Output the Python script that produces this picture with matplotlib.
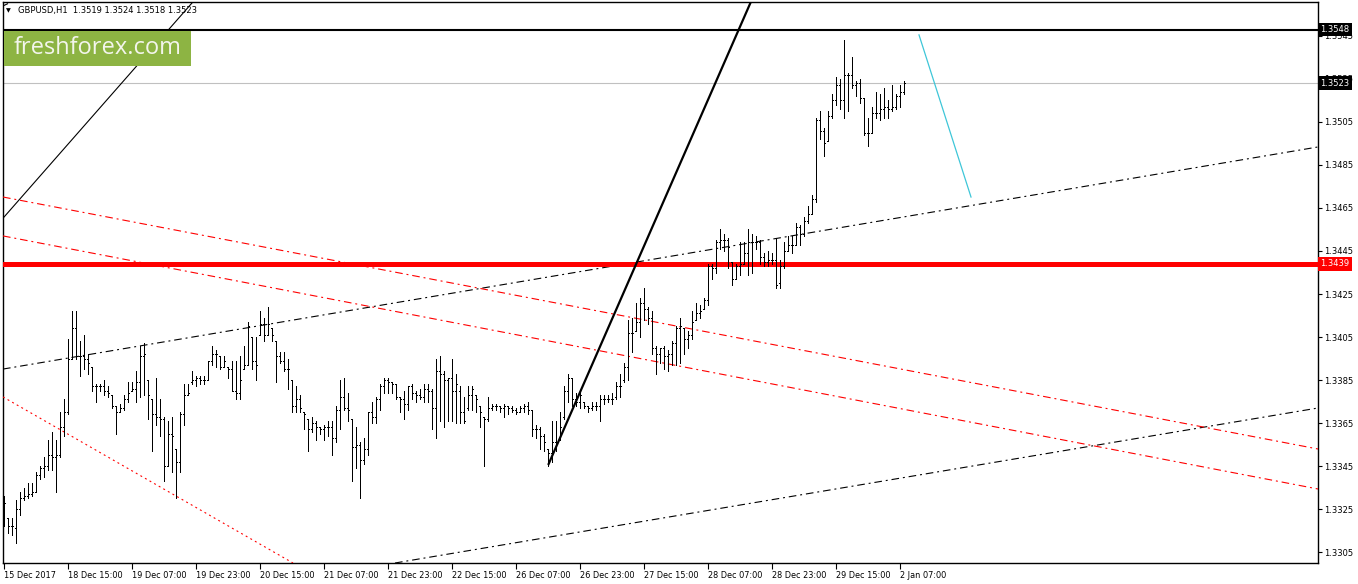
import numpy as np
import matplotlib
matplotlib.use('Agg')
import matplotlib.pyplot as plt
from matplotlib.collections import LineCollection
from matplotlib.patches import Rectangle
import matplotlib.transforms as mtransforms

plt.rcParams['font.family'] = ['DejaVu Sans']
plt.rcParams['lines.scale_dashes'] = False

# ---------------- data (GBPUSD H1 bars) ----------------
opens = [1.3322, 1.3321, 1.3317, 1.3316, 1.3325, 1.3330, 1.3331, 1.3332, 1.3333, 1.3341,
         1.3344, 1.3345, 1.3350, 1.3349, 1.3350, 1.3363, 1.3370, 1.3395, 1.3409, 1.3396,
         1.3396, 1.3395, 1.3391, 1.3382, 1.3382, 1.3382, 1.3380, 1.3378, 1.3373, 1.3370,
         1.3372, 1.3376, 1.3380, 1.3381, 1.3384, 1.3396, 1.3385, 1.3376, 1.3369, 1.3368,
         1.3367, 1.3345, 1.3360, 1.3353, 1.3347, 1.3369, 1.3378, 1.3384, 1.3385, 1.3386,
         1.3385, 1.3385, 1.3394, 1.3397, 1.3396, 1.3391, 1.3391, 1.3390, 1.3380, 1.3379,
         1.3390, 1.3392, 1.3405, 1.3394, 1.3406, 1.3411, 1.3406, 1.3409, 1.3403, 1.3396,
         1.3394, 1.3390, 1.3385, 1.3373, 1.3376, 1.3370, 1.3367, 1.3362, 1.3365, 1.3363,
         1.3362, 1.3363, 1.3363, 1.3358, 1.3371, 1.3377, 1.3372, 1.3367, 1.3354, 1.3355,
         1.3348, 1.3353, 1.3370, 1.3368, 1.3376, 1.3382, 1.3385, 1.3384, 1.3383, 1.3377,
         1.3376, 1.3374, 1.3382, 1.3379, 1.3378, 1.3377, 1.3381, 1.3380, 1.3372, 1.3389,
         1.3388, 1.3385, 1.3386, 1.3380, 1.3380, 1.3370, 1.3372, 1.3378, 1.3378, 1.3373,
         1.3368, 1.3367, 1.3372, 1.3373, 1.3373, 1.3372, 1.3373, 1.3372, 1.3371, 1.3370,
         1.3372, 1.3373, 1.3371, 1.3362, 1.3362, 1.3359, 1.3353, 1.3351, 1.3356, 1.3358,
         1.3368, 1.3380, 1.3386, 1.3376, 1.3375, 1.3375, 1.3373, 1.3372, 1.3373, 1.3373,
         1.3376, 1.3376, 1.3376, 1.3377, 1.3382, 1.3385, 1.3391, 1.3407, 1.3408, 1.3412,
         1.3421, 1.3418, 1.3414, 1.3400, 1.3397, 1.3400, 1.3396, 1.3397, 1.3402, 1.3409,
         1.3409, 1.3404, 1.3406, 1.3413, 1.3416, 1.3418, 1.3422, 1.3438, 1.3437, 1.3449,
         1.3450, 1.3450, 1.3440, 1.3432, 1.3438, 1.3439, 1.3444, 1.3449, 1.3449, 1.3449,
         1.3442, 1.3440, 1.3441, 1.3441, 1.3430, 1.3438, 1.3445, 1.3448, 1.3448, 1.3456,
         1.3453, 1.3459, 1.3462, 1.3469, 1.3506, 1.3501, 1.3496, 1.3508, 1.3515, 1.3522,
         1.3515, 1.3527, 1.3527, 1.3522, 1.3523, 1.3516, 1.3500, 1.3500, 1.3509, 1.3509,
         1.3511, 1.3512, 1.3511, 1.3512, 1.3517, 1.3519]
highs = [1.3331, 1.3321, 1.3321, 1.3329, 1.3333, 1.3335, 1.3337, 1.3337, 1.3342, 1.3345,
         1.3349, 1.3357, 1.3361, 1.3357, 1.3370, 1.3376, 1.3404, 1.3417, 1.3417, 1.3403,
         1.3406, 1.3397, 1.3391, 1.3383, 1.3383, 1.3385, 1.3382, 1.3378, 1.3373, 1.3374,
         1.3378, 1.3384, 1.3384, 1.3389, 1.3401, 1.3402, 1.3385, 1.3376, 1.3386, 1.3376,
         1.3368, 1.3366, 1.3368, 1.3353, 1.3370, 1.3383, 1.3383, 1.3389, 1.3387, 1.3387,
         1.3387, 1.3394, 1.3401, 1.3399, 1.3396, 1.3396, 1.3391, 1.3394, 1.3394, 1.3396,
         1.3401, 1.3412, 1.3405, 1.3405, 1.3417, 1.3414, 1.3419, 1.3409, 1.3403, 1.3398,
         1.3398, 1.3395, 1.3385, 1.3382, 1.3378, 1.3370, 1.3367, 1.3368, 1.3366, 1.3363,
         1.3364, 1.3366, 1.3366, 1.3373, 1.3385, 1.3386, 1.3379, 1.3367, 1.3363, 1.3356,
         1.3358, 1.3370, 1.3375, 1.3377, 1.3383, 1.3386, 1.3386, 1.3384, 1.3383, 1.3377,
         1.3380, 1.3382, 1.3383, 1.3380, 1.3381, 1.3383, 1.3383, 1.3381, 1.3395, 1.3396,
         1.3389, 1.3386, 1.3395, 1.3388, 1.3382, 1.3377, 1.3382, 1.3382, 1.3378, 1.3373,
         1.3368, 1.3377, 1.3374, 1.3374, 1.3373, 1.3374, 1.3373, 1.3373, 1.3372, 1.3373,
         1.3374, 1.3375, 1.3371, 1.3364, 1.3363, 1.3360, 1.3353, 1.3366, 1.3366, 1.3370,
         1.3382, 1.3388, 1.3386, 1.3379, 1.3380, 1.3375, 1.3373, 1.3375, 1.3375, 1.3378,
         1.3378, 1.3378, 1.3379, 1.3384, 1.3388, 1.3393, 1.3413, 1.3414, 1.3421, 1.3423,
         1.3428, 1.3419, 1.3417, 1.3401, 1.3400, 1.3401, 1.3399, 1.3403, 1.3410, 1.3414,
         1.3409, 1.3408, 1.3417, 1.3421, 1.3420, 1.3423, 1.3439, 1.3439, 1.3450, 1.3455,
         1.3453, 1.3451, 1.3440, 1.3439, 1.3449, 1.3449, 1.3455, 1.3453, 1.3452, 1.3450,
         1.3444, 1.3445, 1.3444, 1.3451, 1.3441, 1.3449, 1.3452, 1.3452, 1.3458, 1.3457,
         1.3461, 1.3466, 1.3471, 1.3507, 1.3510, 1.3502, 1.3510, 1.3518, 1.3526, 1.3525,
         1.3543, 1.3528, 1.3535, 1.3524, 1.3525, 1.3516, 1.3507, 1.3512, 1.3519, 1.3518,
         1.3521, 1.3515, 1.3522, 1.3518, 1.3522, 1.3524]
lows = [1.3317, 1.3314, 1.3313, 1.3309, 1.3322, 1.3329, 1.3330, 1.3331, 1.3333, 1.3339,
        1.3340, 1.3343, 1.3343, 1.3333, 1.3349, 1.3359, 1.3369, 1.3395, 1.3395, 1.3387,
        1.3390, 1.3388, 1.3380, 1.3375, 1.3380, 1.3378, 1.3377, 1.3372, 1.3360, 1.3370,
        1.3371, 1.3375, 1.3380, 1.3375, 1.3377, 1.3378, 1.3367, 1.3352, 1.3364, 1.3359,
        1.3338, 1.3345, 1.3342, 1.3330, 1.3342, 1.3364, 1.3378, 1.3383, 1.3382, 1.3383,
        1.3383, 1.3385, 1.3392, 1.3391, 1.3390, 1.3391, 1.3386, 1.3380, 1.3376, 1.3376,
        1.3390, 1.3392, 1.3390, 1.3385, 1.3406, 1.3403, 1.3406, 1.3403, 1.3384, 1.3393,
        1.3389, 1.3381, 1.3370, 1.3370, 1.3370, 1.3362, 1.3352, 1.3361, 1.3357, 1.3360,
        1.3357, 1.3359, 1.3350, 1.3356, 1.3362, 1.3371, 1.3366, 1.3338, 1.3344, 1.3330,
        1.3346, 1.3350, 1.3365, 1.3365, 1.3371, 1.3379, 1.3379, 1.3379, 1.3376, 1.3370,
        1.3367, 1.3371, 1.3376, 1.3375, 1.3376, 1.3375, 1.3375, 1.3362, 1.3358, 1.3366,
        1.3363, 1.3366, 1.3366, 1.3365, 1.3365, 1.3365, 1.3371, 1.3371, 1.3370, 1.3363,
        1.3345, 1.3366, 1.3371, 1.3371, 1.3370, 1.3368, 1.3369, 1.3370, 1.3369, 1.3370,
        1.3370, 1.3369, 1.3359, 1.3358, 1.3353, 1.3352, 1.3345, 1.3347, 1.3352, 1.3357,
        1.3367, 1.3375, 1.3373, 1.3373, 1.3372, 1.3372, 1.3370, 1.3371, 1.3371, 1.3366,
        1.3374, 1.3375, 1.3374, 1.3376, 1.3377, 1.3384, 1.3385, 1.3398, 1.3408, 1.3405,
        1.3413, 1.3411, 1.3397, 1.3388, 1.3393, 1.3390, 1.3389, 1.3392, 1.3392, 1.3393,
        1.3397, 1.3400, 1.3404, 1.3413, 1.3414, 1.3418, 1.3420, 1.3432, 1.3435, 1.3446,
        1.3445, 1.3437, 1.3429, 1.3432, 1.3434, 1.3439, 1.3434, 1.3435, 1.3446, 1.3439,
        1.3438, 1.3438, 1.3439, 1.3428, 1.3428, 1.3437, 1.3445, 1.3444, 1.3448, 1.3448,
        1.3452, 1.3458, 1.3462, 1.3468, 1.3497, 1.3489, 1.3496, 1.3507, 1.3513, 1.3511,
        1.3507, 1.3510, 1.3521, 1.3517, 1.3514, 1.3499, 1.3494, 1.3500, 1.3507, 1.3506,
        1.3507, 1.3507, 1.3510, 1.3511, 1.3512, 1.3518]
closes = [1.3328, 1.3317, 1.3317, 1.3325, 1.3330, 1.3331, 1.3332, 1.3333, 1.3341, 1.3344,
          1.3345, 1.3350, 1.3349, 1.3350, 1.3363, 1.3370, 1.3395, 1.3409, 1.3396, 1.3396,
          1.3395, 1.3393, 1.3382, 1.3382, 1.3382, 1.3380, 1.3379, 1.3373, 1.3370, 1.3372,
          1.3376, 1.3379, 1.3381, 1.3384, 1.3396, 1.3397, 1.3378, 1.3369, 1.3368, 1.3367,
          1.3345, 1.3360, 1.3359, 1.3347, 1.3369, 1.3378, 1.3379, 1.3385, 1.3386, 1.3385,
          1.3385, 1.3394, 1.3397, 1.3397, 1.3391, 1.3394, 1.3390, 1.3380, 1.3379, 1.3385,
          1.3392, 1.3410, 1.3394, 1.3392, 1.3411, 1.3406, 1.3411, 1.3406, 1.3396, 1.3394,
          1.3390, 1.3390, 1.3373, 1.3376, 1.3372, 1.3369, 1.3362, 1.3365, 1.3363, 1.3362,
          1.3363, 1.3363, 1.3358, 1.3371, 1.3377, 1.3372, 1.3371, 1.3354, 1.3355, 1.3348,
          1.3353, 1.3370, 1.3368, 1.3376, 1.3382, 1.3385, 1.3384, 1.3383, 1.3377, 1.3376,
          1.3374, 1.3382, 1.3379, 1.3378, 1.3377, 1.3381, 1.3380, 1.3372, 1.3389, 1.3388,
          1.3385, 1.3386, 1.3380, 1.3383, 1.3370, 1.3366, 1.3378, 1.3381, 1.3376, 1.3370,
          1.3367, 1.3372, 1.3373, 1.3373, 1.3372, 1.3373, 1.3372, 1.3371, 1.3370, 1.3372,
          1.3373, 1.3371, 1.3362, 1.3362, 1.3359, 1.3356, 1.3351, 1.3356, 1.3356, 1.3363,
          1.3380, 1.3386, 1.3376, 1.3375, 1.3378, 1.3373, 1.3372, 1.3373, 1.3373, 1.3376,
          1.3376, 1.3376, 1.3376, 1.3382, 1.3382, 1.3391, 1.3407, 1.3407, 1.3412, 1.3421,
          1.3418, 1.3414, 1.3400, 1.3397, 1.3400, 1.3396, 1.3397, 1.3402, 1.3409, 1.3410,
          1.3404, 1.3406, 1.3412, 1.3416, 1.3417, 1.3422, 1.3438, 1.3437, 1.3449, 1.3450,
          1.3450, 1.3447, 1.3432, 1.3438, 1.3439, 1.3444, 1.3449, 1.3449, 1.3449, 1.3442,
          1.3440, 1.3441, 1.3441, 1.3429, 1.3438, 1.3445, 1.3448, 1.3448, 1.3456, 1.3453,
          1.3459, 1.3462, 1.3469, 1.3506, 1.3501, 1.3495, 1.3508, 1.3515, 1.3522, 1.3515,
          1.3527, 1.3527, 1.3522, 1.3523, 1.3516, 1.3500, 1.3500, 1.3509, 1.3509, 1.3511,
          1.3512, 1.3511, 1.3512, 1.3517, 1.3519, 1.3523]

x_tick_pos = [0, 16, 32, 48, 64, 80, 96, 112, 128, 144, 160, 176, 192, 208, 224]
x_tick_labels = ['15 Dec 2017', '18 Dec 15:00', '19 Dec 07:00', '19 Dec 23:00',
                 '20 Dec 15:00', '21 Dec 07:00', '21 Dec 23:00', '22 Dec 15:00',
                 '26 Dec 07:00', '26 Dec 23:00', '27 Dec 15:00', '28 Dec 07:00',
                 '28 Dec 23:00', '29 Dec 15:00', '2 Jan 07:00']
y_ticks = [1.3305, 1.3325, 1.3345, 1.3365, 1.3385, 1.3405, 1.3425,
           1.3445, 1.3465, 1.3485, 1.3505, 1.3525, 1.3545]

level_resist = 1.3548
level_bid = 1.3523
level_support = 1.3439
header_text = 'GBPUSD,H1  1.3519 1.3524 1.3518 1.3523'
watermark = 'freshforex.com'

# trend lines: (bar index, price) anchor points
thin_black_pts = [(-0.175, 1.34603), (46.6, 1.35594)]
top_dashed_pts = [(-0.175, 1.35590), (6.1, 1.35645)]
thick_black_x = [136.1, 190.0]
thick_black_y = [1.33455, 1.35746]
upper_black_dd = [(-0.175, 1.33901), (328.6, 1.34934)]
lower_black_dd = [(97.8, 1.32999), (328.6, 1.33720)]
red_dd_a = [(-0.175, 1.34701), (328.6, 1.33529)]
red_dd_b = [(-0.175, 1.34520), (328.6, 1.33343)]
red_dot = [(-0.175, 1.33771), (72.3, 1.32999)]
cyan_x = [228.8, 241.8]
cyan_y = [1.35455, 1.34701]

# ---------------- figure ----------------
W, H = 1358, 584
fig = plt.figure(figsize=(W / 100, H / 100), dpi=100)
fig.patch.set_facecolor('white')
ax = fig.add_axes([3 / W, 21 / H, 1315 / W, 561 / H])
ax.set_facecolor('white')
ax.set_xlim(-0.2, 328.55)
ax.set_ylim(1.32999, 1.35608)

n = len(opens)
xs = np.arange(n)
o = np.clip(opens, lows, highs)
c = np.clip(closes, lows, highs)
segs = []
for i in range(n):
    segs.append([(xs[i], lows[i]), (xs[i], highs[i])])
    segs.append([(xs[i] - 0.3, o[i]), (xs[i], o[i])])
    segs.append([(xs[i], c[i]), (xs[i] + 0.3, c[i])])
lc = LineCollection(segs, colors='black', linewidths=0.72, antialiaseds=False, zorder=4)
ax.add_collection(lc)

dd = (0, (5.5, 2.8, 1.4, 2.8))
ax.axline(*upper_black_dd, color='black', lw=0.8, linestyle=dd, zorder=3)
ax.axline(*lower_black_dd, color='black', lw=0.8, linestyle=dd, zorder=3)
ax.axline(*red_dd_a, color='#ff0000', lw=0.8, linestyle=dd, zorder=3)
ax.axline(*red_dd_b, color='#ff0000', lw=0.8, linestyle=dd, zorder=3)
ax.axline(*red_dot, color='#ff0000', lw=0.8, linestyle=(0, (1.4, 2.4)), zorder=3)
ax.axline(*thin_black_pts, color='black', lw=0.8, zorder=3)
ax.axline(*top_dashed_pts, color='black', lw=0.8, linestyle=(0, (4, 3)), zorder=3)
ax.plot(thick_black_x, thick_black_y, color='black', lw=1.6, zorder=5,
        solid_capstyle='butt')
ax.plot(cyan_x, cyan_y, color='#3ec6d8', lw=0.9, zorder=5)

ax.axhline(level_resist, color='black', lw=1.5, zorder=3)
ax.axhline(level_bid, color='#c0c0c0', lw=0.8, zorder=2)
ax.axhline(level_support, color='#ff0000', lw=3.6, zorder=3)

# axes styling
for sp in ax.spines.values():
    sp.set_color('black')
    sp.set_linewidth(1.0)
ax.yaxis.tick_right()
ax.set_yticks(y_ticks)
ax.set_yticklabels([f'{v:.4f}' for v in y_ticks])
ax.tick_params(axis='y', which='both', right=True, left=False, direction='out',
               length=3, width=0.8, pad=1.5, labelsize=6.0, labelcolor='black')
ax.set_xticks(x_tick_pos)
ax.set_xticklabels(x_tick_labels)
ax.tick_params(axis='x', direction='out', length=4, width=0.8, pad=1.5,
               labelsize=5.9, labelcolor='black')
for lab in ax.get_xticklabels():
    lab.set_horizontalalignment('left')

# price boxes on the right scale
trans = mtransforms.blended_transform_factory(ax.transAxes, ax.transData)
for val, fc in [(level_resist, 'black'), (level_bid, 'black'), (level_support, '#ff0000')]:
    ax.text(1.0016, val, f'{val:.4f}', transform=trans, ha='left', va='center',
            fontsize=6.0, color='white', clip_on=False, zorder=10,
            bbox=dict(boxstyle='square,pad=0.28', fc=fc, ec='none'))

# header
fig.text(6 / W, 1 - 10.5 / H, '\u25BC', fontsize=4.5, color='black', va='center', ha='left')
fig.text(18 / W, 1 - 10.5 / H, header_text, fontsize=6.0, color='black',
         va='center', ha='left')

# watermark
fig.add_artist(Rectangle((4 / W, 1 - 66 / H), 187 / W, 35 / H, transform=fig.transFigure,
                         facecolor='#8db443', edgecolor='none', zorder=5))
fig.text(97.5 / W, 1 - 48.5 / H, watermark, fontsize=17, color='#f3f5ec',
         family='Open Sans', ha='center', va='center', zorder=6)

fig.savefig('out.png', dpi=100, facecolor='white')
